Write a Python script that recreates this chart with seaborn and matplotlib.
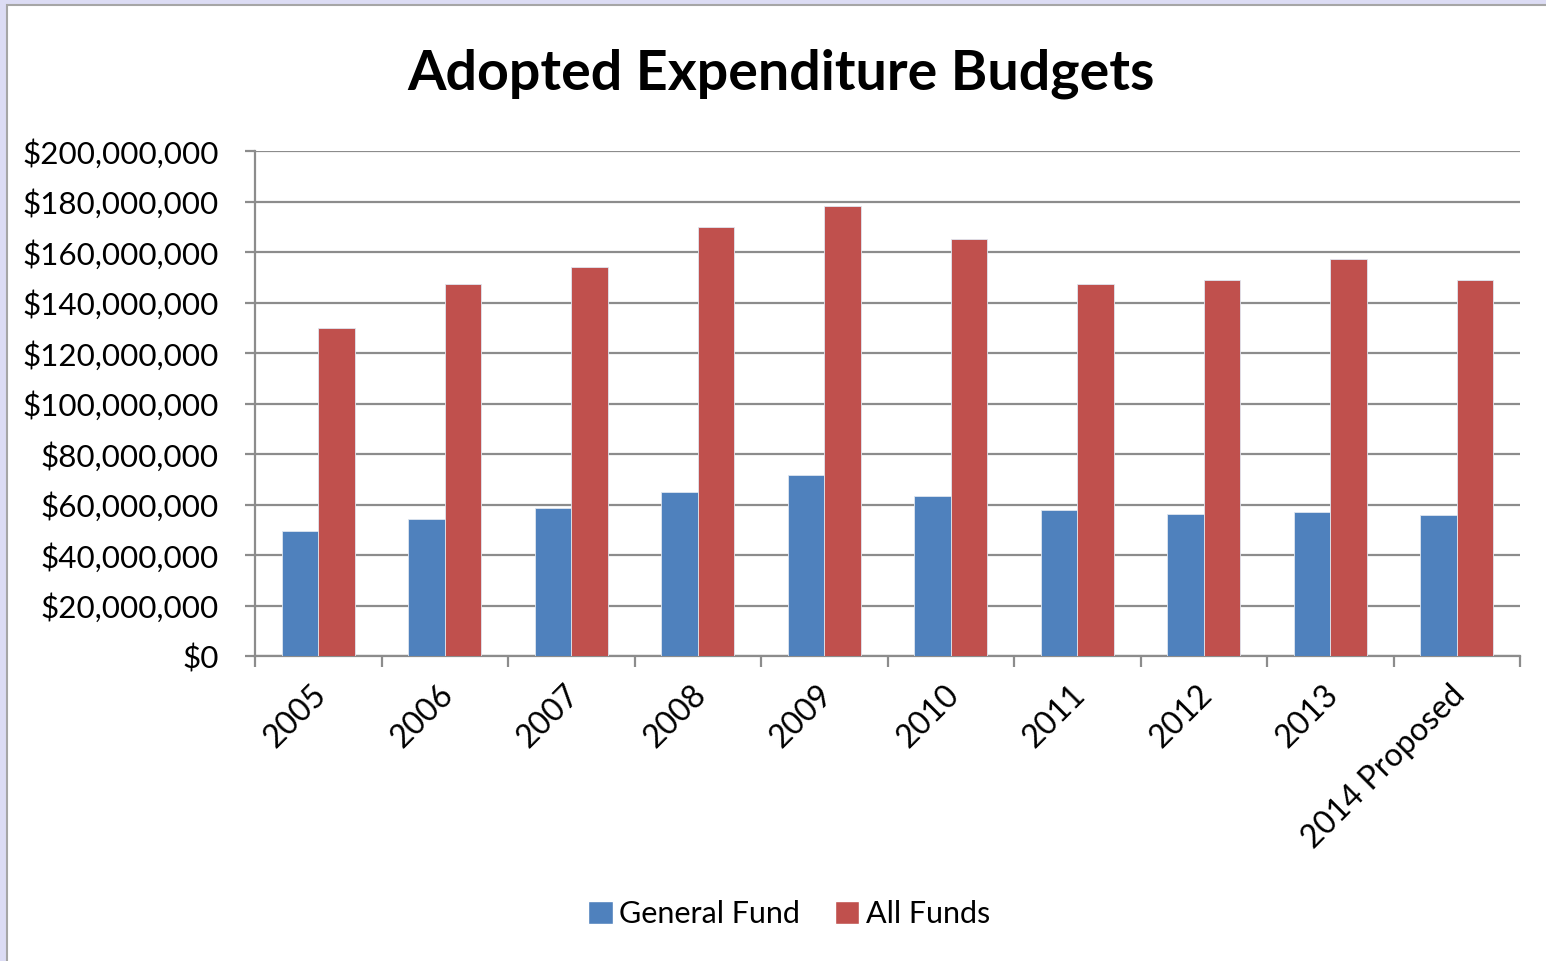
import pandas as pd
import matplotlib
matplotlib.use("Agg")
import matplotlib.pyplot as plt
import matplotlib.transforms as mtransforms
import seaborn as sns
from matplotlib.patches import Rectangle
from matplotlib.ticker import FuncFormatter, FixedLocator

# === Data ===
years = ["2005", "2006", "2007", "2008", "2009", "2010", "2011", "2012", "2013", "2014 Proposed"]
general_fund = [49.4, 54.2, 58.5, 65.1, 71.8, 63.5, 57.7, 56.1, 56.9, 56.0]      # millions
all_funds = [130.0, 147.4, 154.1, 170.0, 178.3, 165.0, 147.4, 149.1, 157.4, 149.1]  # millions
series_names = ["General Fund", "All Funds"]
colors = ["#4F81BD", "#C0504D"]

df = pd.DataFrame({
    "year": years * 2,
    "value": [v * 1e6 for v in general_fund] + [v * 1e6 for v in all_funds],
    "fund": [series_names[0]] * len(years) + [series_names[1]] * len(years),
})

sns.set_style("white")
plt.rcParams["font.family"] = ["Lato", "DejaVu Sans"]
plt.rcParams["text.color"] = "black"
plt.rcParams["xtick.color"] = "black"
plt.rcParams["ytick.color"] = "black"

W, H = 1546, 961
fig = plt.figure(figsize=(W / 100, H / 100), dpi=100)
fig.patch.set_facecolor("#dcdcf4")
fig.patches.append(Rectangle((7 / W, -0.01), 1.0, 1 - 5 / H + 0.01, transform=fig.transFigure,
                             facecolor="white", edgecolor="#a6a6a6", linewidth=1.5, zorder=-5))

ax = fig.add_axes([255 / W, 1 - 656 / H, (1520 - 255) / W, (656 - 151) / H])
ax.set_facecolor("white")

sns.barplot(data=df, x="year", y="value", hue="fund", palette=colors, width=0.574,
            saturation=1, edgecolor="#dfe6f0", linewidth=0.6, ax=ax, legend=False, zorder=3)

grid_c = "#8c8c8c"
ax.set_ylim(0, 200e6)
ax.set_xlim(-0.5, len(years) - 0.5)
ax.yaxis.set_major_locator(FixedLocator([i * 20e6 for i in range(11)]))
ax.yaxis.set_major_formatter(FuncFormatter(lambda v, p: f"${v:,.0f}"))
ax.grid(axis="y", color=grid_c, linewidth=1.6, zorder=0)
ax.set_axisbelow(True)

for s in ["top", "right"]:
    ax.spines[s].set_visible(False)
for s in ["left", "bottom"]:
    ax.spines[s].set_color(grid_c)
    ax.spines[s].set_linewidth(1.6)

ax.tick_params(axis="y", which="major", length=7, width=1.6, color=grid_c, labelsize=22.6,
               labelcolor="black", pad=19, left=True)
ax.set_xticks(range(len(years)))
ax.set_xticklabels(years, rotation=45, ha="right", rotation_mode="anchor", fontsize=23)
ax.tick_params(axis="x", which="major", length=0, pad=17, labelcolor="black")
shift = mtransforms.ScaledTranslation(-7 / 100, 0, fig.dpi_scale_trans)
for lab in ax.get_xticklabels():
    lab.set_transform(lab.get_transform() + shift)
ax.set_xticks([i - 0.5 for i in range(len(years) + 1)], minor=True)
ax.tick_params(axis="x", which="minor", length=8, width=1.6, color=grid_c, bottom=True)
ax.set_xlabel("")
ax.set_ylabel("")

fig.text(781 / W, 1 - 74 / H, "Adopted Expenditure Budgets", ha="center", va="center",
         fontsize=40, fontweight="bold", color="black")

handles = [Rectangle((0, 0), 1, 1, facecolor=c) for c in colors]
fig.legend(handles, series_names, loc="center", bbox_to_anchor=(789 / W, 1 - 914 / H), ncol=2,
           frameon=False, fontsize=22, handlelength=0.8, handleheight=0.8, handletextpad=0.2,
           columnspacing=1.15, labelcolor="black")

fig.savefig("out.png", dpi=100, facecolor=fig.get_facecolor())
